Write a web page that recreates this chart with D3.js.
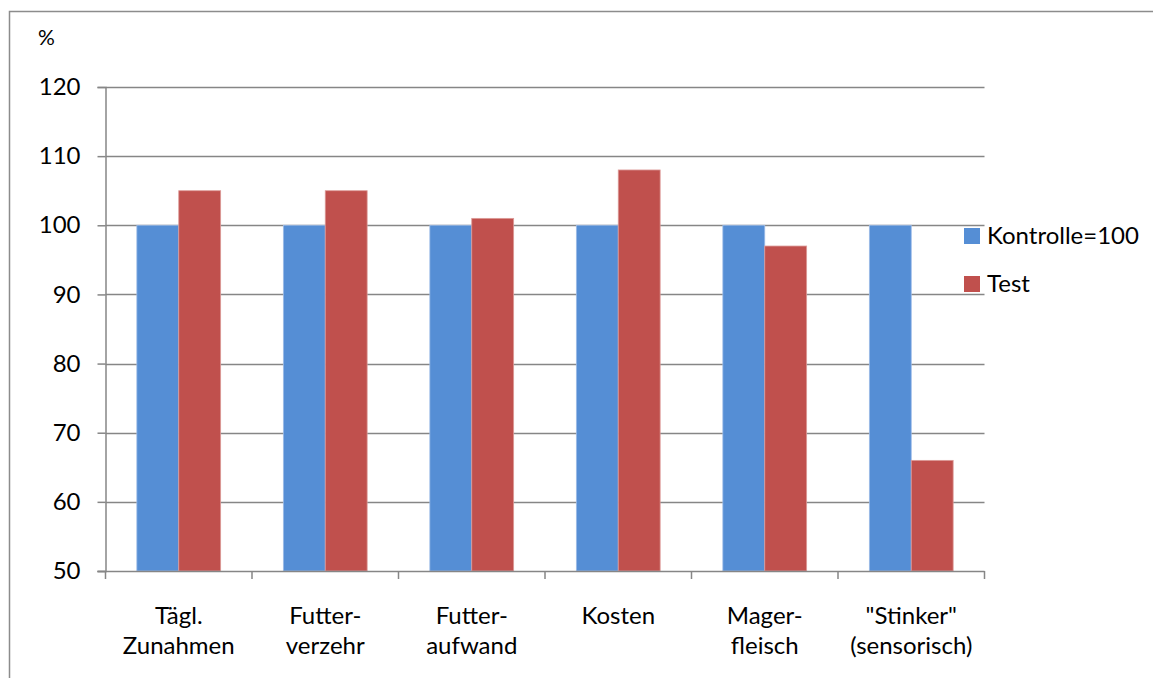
<!DOCTYPE html>
<html>
<head>
<meta charset="utf-8">
<script src="https://cdn.jsdelivr.net/npm/d3@7"></script>
<style>
  html, body { margin: 0; padding: 0; background: #fff; }
  svg { display: block; }
  text { font-family: Lato, "Open Sans", sans-serif; fill: #000; }
</style>
</head>
<body>
<svg id="chart" width="1153" height="678"></svg>
<script>
// Kategorien (zweizeilige Beschriftung)
const categories = [
  ["Tägl.", "Zunahmen"],
  ["Futter-", "verzehr"],
  ["Futter-", "aufwand"],
  ["Kosten"],
  ["Mager-", "fleisch"],
  ["\"Stinker\"", "(sensorisch)"]
];
const seriesNames = ["Kontrolle=100", "Test"];
const kontrolle = [100, 100, 100, 100, 100, 100];
const test = [105, 105, 101, 108, 97, 66];
const yTicks = [50, 60, 70, 80, 90, 100, 110, 120];
const colors = ["#558ED5", "#C0504D"];
const strokes = ["#9DBCE8", "#DC9A98"];

const svg = d3.select("#chart");
const W = 1153, H = 678;
const FONT = 24;

// Rahmen des Diagrammbereichs
svg.append("rect")
  .attr("x", 9.5).attr("y", 11.5)
  .attr("width", W + 20).attr("height", H + 20)
  .attr("fill", "none").attr("stroke", "#8c8c8c").attr("stroke-width", 1.5);

const plot = { left: 105.5, right: 984.5, top: 87, bottom: 571 };

const x = d3.scaleBand()
  .domain(d3.range(categories.length))
  .range([plot.left, plot.right])
  .paddingInner(0).paddingOuter(0);

const groupWidth = x.bandwidth() * 0.572;
const xs = d3.scaleBand()
  .domain(d3.range(seriesNames.length))
  .range([0, groupWidth]);

const y = d3.scaleLinear().domain([50, 120]).range([plot.bottom, plot.top]);

// Hilfslinien
svg.append("g")
  .selectAll("line")
  .data(yTicks.filter(v => v > 50))
  .join("line")
  .attr("x1", plot.left).attr("x2", plot.right)
  .attr("y1", d => Math.round(y(d)) + 0.5).attr("y2", d => Math.round(y(d)) + 0.5)
  .attr("stroke", "#868686").attr("stroke-width", 1.5);

// Balken
const seriesData = [kontrolle, test];
seriesData.forEach((vals, si) => {
  svg.append("g")
    .selectAll("rect")
    .data(vals)
    .join("rect")
    .attr("x", (d, i) => x(i) + (x.bandwidth() - groupWidth) / 2 + xs(si))
    .attr("width", xs.bandwidth())
    .attr("y", d => y(d))
    .attr("height", d => y(50) - y(d))
    .attr("fill", colors[si])
    .attr("stroke", strokes[si])
    .attr("stroke-width", 0.8);
});

// Y-Achse
const yAxis = d3.axisLeft(y).tickValues(yTicks).tickSize(8).tickPadding(17);
const gy = svg.append("g").attr("transform", `translate(${plot.left},0)`).call(yAxis);
gy.select(".domain").attr("stroke", "#868686").attr("stroke-width", 1.5);
gy.selectAll(".tick line").attr("stroke", "#868686").attr("stroke-width", 1.5);
gy.selectAll(".tick text")
  .style("font-family", "Lato, 'Open Sans', sans-serif")
  .attr("font-size", FONT).attr("fill", "#000");

// X-Achse
const gx = svg.append("g").attr("transform", `translate(0,${plot.bottom})`);
gx.append("line")
  .attr("x1", plot.left - 8).attr("x2", plot.right)
  .attr("y1", 0.5).attr("y2", 0.5)
  .attr("stroke", "#868686").attr("stroke-width", 1.5);
gx.selectAll("line.tick")
  .data(d3.range(categories.length + 1))
  .join("line")
  .attr("class", "tick")
  .attr("x1", d => d < categories.length ? x(d) : plot.right)
  .attr("x2", d => d < categories.length ? x(d) : plot.right)
  .attr("y1", 0).attr("y2", 8)
  .attr("stroke", "#868686").attr("stroke-width", 1.5);

const labels = gx.selectAll("text.cat")
  .data(categories)
  .join("text")
  .attr("class", "cat")
  .attr("text-anchor", "middle")
  .attr("font-size", FONT)
  .attr("transform", (d, i) => `translate(${x(i) + x.bandwidth() / 2},0)`);
labels.selectAll("tspan")
  .data(d => d)
  .join("tspan")
  .attr("x", 0)
  .attr("y", (d, i) => 53 + i * 30)
  .text(d => d);

// Einheit
svg.append("text").attr("x", 38).attr("y", 45).attr("font-size", 21).text("%");

// Legende
const legend = svg.append("g").attr("transform", "translate(964,228)");
seriesNames.forEach((name, i) => {
  const g = legend.append("g").attr("transform", `translate(0,${i * 48})`);
  g.append("rect").attr("width", 16).attr("height", 16).attr("fill", colors[i]);
  g.append("text").attr("x", 23).attr("y", 16).attr("font-size", FONT).text(name);
});
</script>
</body>
</html>
